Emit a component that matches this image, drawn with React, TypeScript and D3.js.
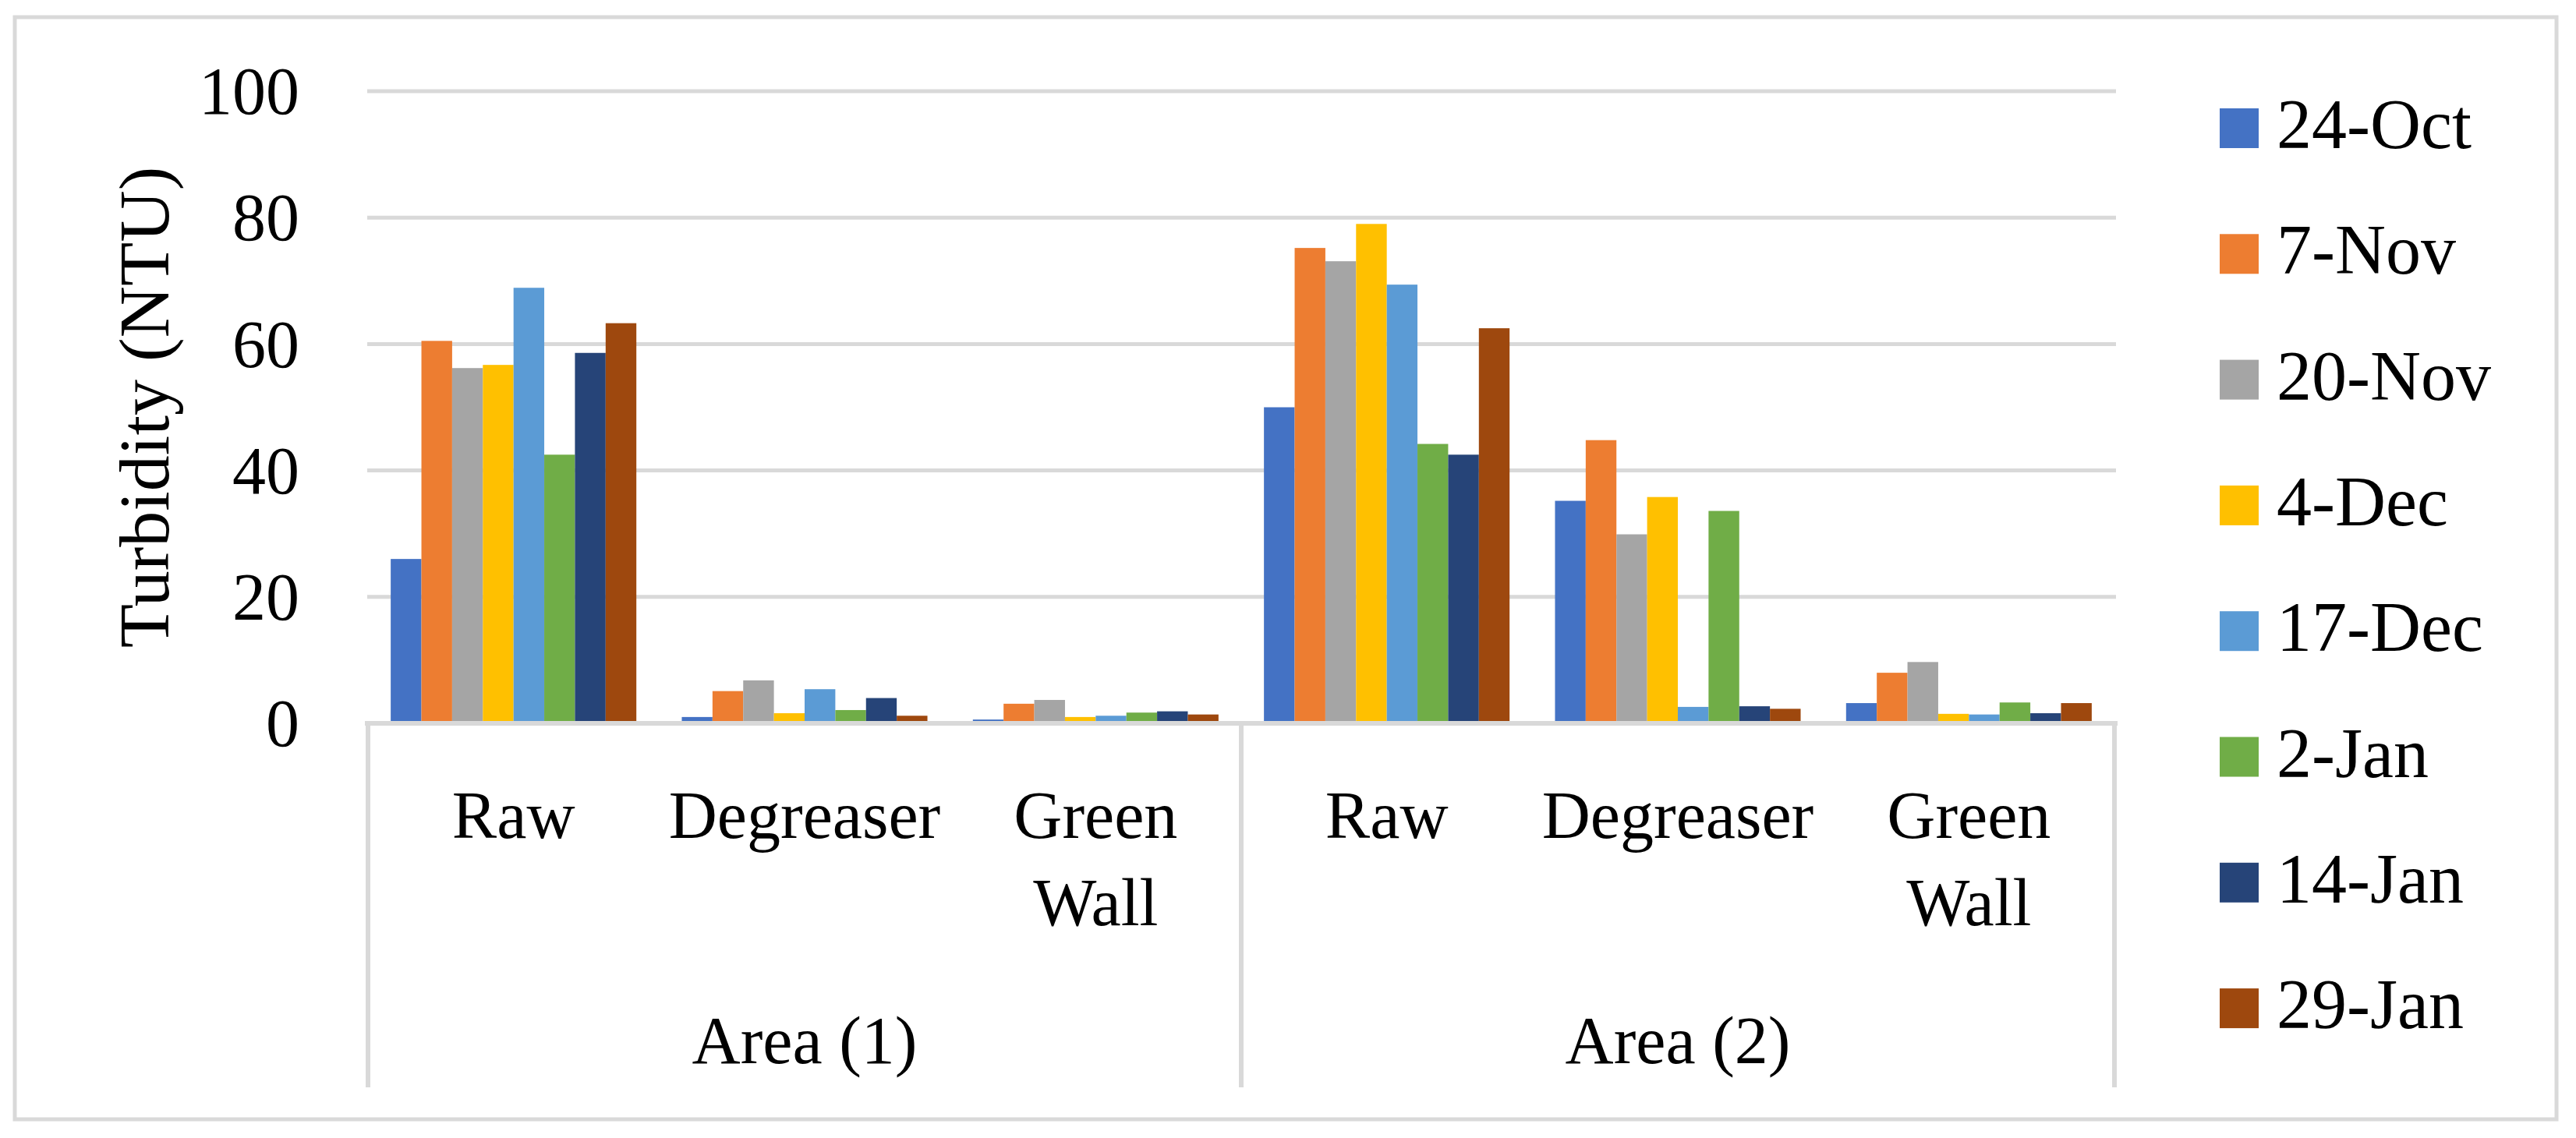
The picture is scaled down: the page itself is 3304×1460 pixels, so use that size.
import React from 'react';
import * as d3 from 'd3';

const series = ['24-Oct', '7-Nov', '20-Nov', '4-Dec', '17-Dec', '2-Jan', '14-Jan', '29-Jan'];
const colors = ['#4472C4', '#ED7D31', '#A5A5A5', '#FFC000', '#5B9BD5', '#70AD47', '#264478', '#9E480E'];
const areas = ['Area (1)', 'Area (2)'];
const stages = [['Raw'], ['Degreaser'], ['Green', 'Wall']];
const yTicks = [0, 20, 40, 60, 80, 100];

// one array per area/stage, values in series order
const area1Raw = [26.0, 60.5, 56.2, 56.7, 68.9, 42.5, 58.6, 63.3];
const area1Degreaser = [1.0, 5.1, 6.8, 1.6, 5.4, 2.1, 4.0, 1.2];
const area1GreenWall = [0.6, 3.1, 3.7, 1.0, 1.2, 1.7, 1.9, 1.4];
const area2Raw = [50.0, 75.2, 73.1, 79.0, 69.4, 44.2, 42.5, 62.5];
const area2Degreaser = [35.2, 44.8, 29.9, 35.8, 2.6, 33.6, 2.7, 2.3];
const area2GreenWall = [3.2, 8.0, 9.7, 1.5, 1.4, 3.3, 1.6, 3.2];

const groups = [
  { area: 0, stage: 0, values: area1Raw },
  { area: 0, stage: 1, values: area1Degreaser },
  { area: 0, stage: 2, values: area1GreenWall },
  { area: 1, stage: 0, values: area2Raw },
  { area: 1, stage: 1, values: area2Degreaser },
  { area: 1, stage: 2, values: area2GreenWall },
];

const W = 3304;
const H = 1460;
const FONT = '"Liberation Serif", "Times New Roman", serif';
const GRID = '#d9d9d9';

const App: React.FC = () => {
  const plotLeft = 472;
  const plotRight = 2712;
  const yScale = d3.scaleLinear().domain([0, 100]).range([928, 117]);
  const x0 = d3.scaleBand<number>()
    .domain(d3.range(groups.length))
    .range([plotLeft, plotRight])
    .padding(0);
  const x1 = d3.scaleBand<string>()
    .domain(series)
    .range([0, x0.bandwidth()])
    .paddingInner(0)
    .paddingOuter(0.74);
  const areaScale = d3.scaleBand<number>()
    .domain(d3.range(areas.length))
    .range([plotLeft, plotRight]);

  const baseY = yScale(0);

  return (
    <svg width={W} height={H} style={{ position: 'absolute', left: 0, top: 0, display: 'block', background: '#fff' }}>
      <rect x={19} y={22} width={3260} height={1414} fill="#fff" stroke={GRID} strokeWidth={5} />

      {/* gridlines */}
      {yTicks.filter(t => t > 0).map(t => (
        <line key={t} x1={plotLeft - 1} x2={plotRight + 2} y1={yScale(t)} y2={yScale(t)} stroke={GRID} strokeWidth={5} />
      ))}

      {/* y tick labels */}
      {yTicks.map(t => (
        <text key={t} x={384} y={yScale(t)} dy="0.34em" textAnchor="end" fontFamily={FONT} fontSize={86} fill="#000">
          {t}
        </text>
      ))}

      <text
        transform={`translate(216, ${(yScale(0) + yScale(100)) / 2}) rotate(-90)`}
        textAnchor="middle"
        fontFamily={FONT}
        fontSize={92}
        fill="#000"
      >
        Turbidity (NTU)
      </text>

      {/* bars */}
      {groups.map((g, gi) => (
        <g key={gi} transform={`translate(${x0(gi)}, 0)`}>
          {g.values.map((v, si) => (
            <rect
              key={si}
              x={x1(series[si])}
              y={yScale(v)}
              width={x1.bandwidth()}
              height={baseY - yScale(v)}
              fill={colors[si]}
            />
          ))}
        </g>
      ))}

      {/* category axis */}
      <line x1={plotLeft - 4} x2={plotRight + 4} y1={baseY} y2={baseY} stroke={GRID} strokeWidth={6} />
      {[...areas.map((_, i) => areaScale(i) as number), plotRight].map((x, i) => (
        <line key={i} x1={x} x2={x} y1={baseY} y2={1395} stroke={GRID} strokeWidth={6} />
      ))}

      {groups.map((g, gi) => (
        <text key={gi} textAnchor="middle" fontFamily={FONT} fontSize={86} fill="#000">
          {stages[g.stage].map((line, li) => (
            <tspan key={li} x={(x0(gi) as number) + x0.bandwidth() / 2} y={1075 + li * 112}>{line}</tspan>
          ))}
        </text>
      ))}

      {areas.map((a, ai) => (
        <text
          key={a}
          x={(areaScale(ai) as number) + areaScale.bandwidth() / 2}
          y={1364}
          textAnchor="middle"
          fontFamily={FONT}
          fontSize={86}
          fill="#000"
        >
          {a}
        </text>
      ))}

      {/* legend */}
      {series.map((s, i) => {
        const cy = 164 + i * 161.3;
        return (
          <g key={s}>
            <rect x={2847} y={cy - 25} width={50} height={51} fill={colors[i]} />
            <text x={2920} y={cy + 26} fontFamily={FONT} fontSize={90} fill="#000">{s}</text>
          </g>
        );
      })}
    </svg>
  );
};

export default App;
